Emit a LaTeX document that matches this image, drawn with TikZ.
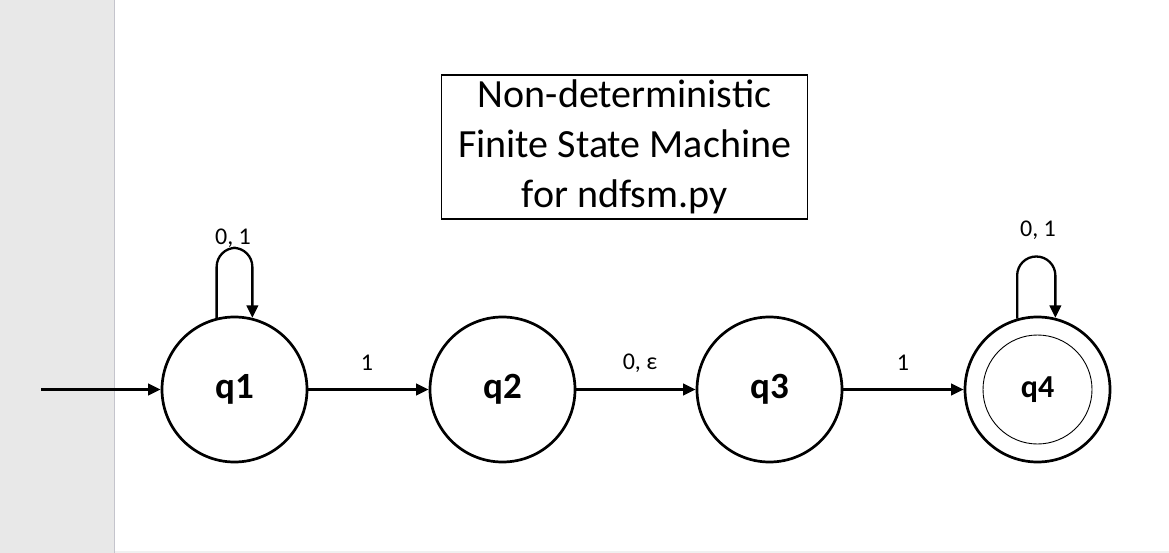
\documentclass[tikz,border=0pt]{standalone}
\usepackage{fontspec}
\setmainfont{Carlito}
\usetikzlibrary{arrows.meta}
\definecolor{panel}{HTML}{E8E8E8}
\definecolor{panelline}{HTML}{C4C4CC}
\definecolor{bottomline}{HTML}{F0F0F0}
\begin{document}
\begin{tikzpicture}[x=1pt,y=-1pt,
  state/.style={circle,draw,line width=2.7pt,minimum size=145pt,inner sep=0pt,font=\fontsize{37}{44}\selectfont\bfseries},
  edge/.style={line width=2.3pt,-{Triangle[length=12.5pt,width=11.5pt]}},
  lbl/.style={font=\fontsize{24}{29}\selectfont,inner sep=0pt},
  titlebox/.style={draw,line width=1.3pt,minimum width=366pt,minimum height=144pt,align=center,inner sep=0pt,font=\fontsize{40}{50}\selectfont}]
\useasboundingbox (0,0) rectangle (1169,553);
\fill[white] (0,0) rectangle (1169,553);
\fill[panel] (0,0) rectangle (114,553);
\draw[panelline,line width=1.5pt] (114.5,0) -- (114.5,553);
\fill[bottomline] (115,551) rectangle (1169,553);

\node[titlebox] (title) at (624.7,147) {Non-deterministic\\Finite State Machine\\for ndfsm.py};

\node[state] (q1) at (234.5,389.5) {q1};
\node[state] (q2) at (502.5,389.5) {q2};
\node[state] (q3) at (769.5,389.5) {q3};
\node[state,font=\fontsize{32}{38}\selectfont\bfseries] (q4) at (1037.5,389.5) {q4};
\draw[line width=0.9pt] (q4.center) circle[radius=54.5];

\coordinate (start) at (41,389.5);
\draw[edge] (start) -- (q1);
\draw[edge] (q1) -- (q2);
\draw[edge] (q2) -- (q3);
\draw[edge] (q3) -- (q4);

\draw[edge,rounded corners=19pt] (q1.104) -- ++(0,-70) -| (q1.76);
\draw[edge,rounded corners=19pt] (q4.106) -- ++(0,-62) -| (q4.76);

\node[lbl] (l11) at (233,238) {0, 1};
\node[lbl] (l44) at (1038,230) {0, 1};
\node[lbl] (l12) at (367,363) {1};
\node[lbl] (l23) at (640,363) {0, ε};
\node[lbl] (l34) at (903,363) {1};
\end{tikzpicture}
\end{document}
